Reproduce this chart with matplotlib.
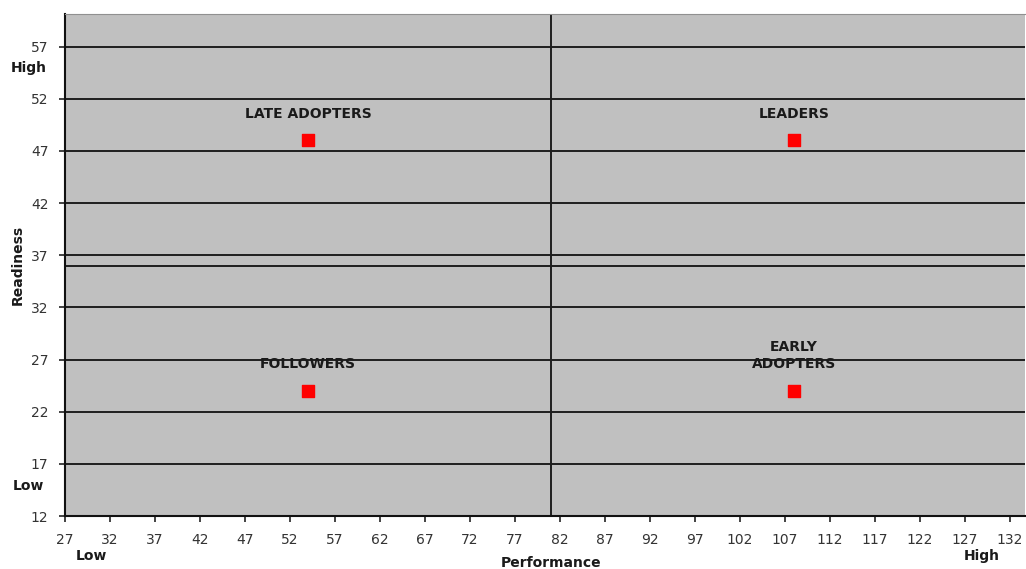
import numpy as np
import matplotlib
matplotlib.use('Agg')
import matplotlib.pyplot as plt

# quadrant members: performance vs readiness
names = ["LATE ADOPTERS", "LEADERS", "FOLLOWERS", "EARLY\nADOPTERS"]
performance = [54, 108, 54, 108]
readiness = [48, 48, 24, 24]

x_ticks = list(range(27, 133, 5))
y_ticks = list(range(12, 58, 5))
x_split = 81
y_split = 36

fig = plt.figure(figsize=(10.26, 5.69), dpi=100)
ax = fig.add_axes([0.0634, 0.0931, 0.936, 0.882])
ax.set_facecolor('#c0c0c0')

ax.set_xlim(27, 133.7)
ax.set_ylim(12, 60.1)

# horizontal grid lines at each tick
for y in y_ticks:
    ax.axhline(y, color='#1e1e1e', lw=1.4, zorder=1)
ax.axhline(y_split, color='#1e1e1e', lw=1.4, zorder=1)
ax.axvline(x_split, color='#1e1e1e', lw=1.4, zorder=1)

ax.scatter(performance, readiness, marker='s', s=64, color='#ff0000', zorder=3)

for name, px, py in zip(names, performance, readiness):
    ax.annotate(name, (px, py), xytext=(0, 14), textcoords='offset points',
                ha='center', va='bottom', fontsize=10, fontweight='bold',
                color='#1a1a1a', linespacing=1.35)

ax.set_xticks(x_ticks)
ax.set_yticks(y_ticks)
ax.tick_params(axis='both', direction='out', length=4, width=1.2, pad=8,
               labelsize=10, labelcolor='#333333', color='#222222')

for side in ['left', 'bottom']:
    ax.spines[side].set_color('#111111')
    ax.spines[side].set_linewidth(1.5)
ax.spines['top'].set_color('#909090')
ax.spines['right'].set_visible(False)

bold = dict(fontsize=10, fontweight='bold', color='#1a1a1a')
fig.text(0.537, 0.011, "Performance", ha='center', va='center', **bold)
fig.text(0.0175, 0.534, "Readiness", ha='center', va='center', rotation=90, **bold)
fig.text(0.028, 0.88, "High", ha='center', va='center', **bold)
fig.text(0.028, 0.145, "Low", ha='center', va='center', **bold)
fig.text(0.089, 0.023, "Low", ha='center', va='center', **bold)
fig.text(0.957, 0.023, "High", ha='center', va='center', **bold)

fig.savefig("out.png", dpi=100)
